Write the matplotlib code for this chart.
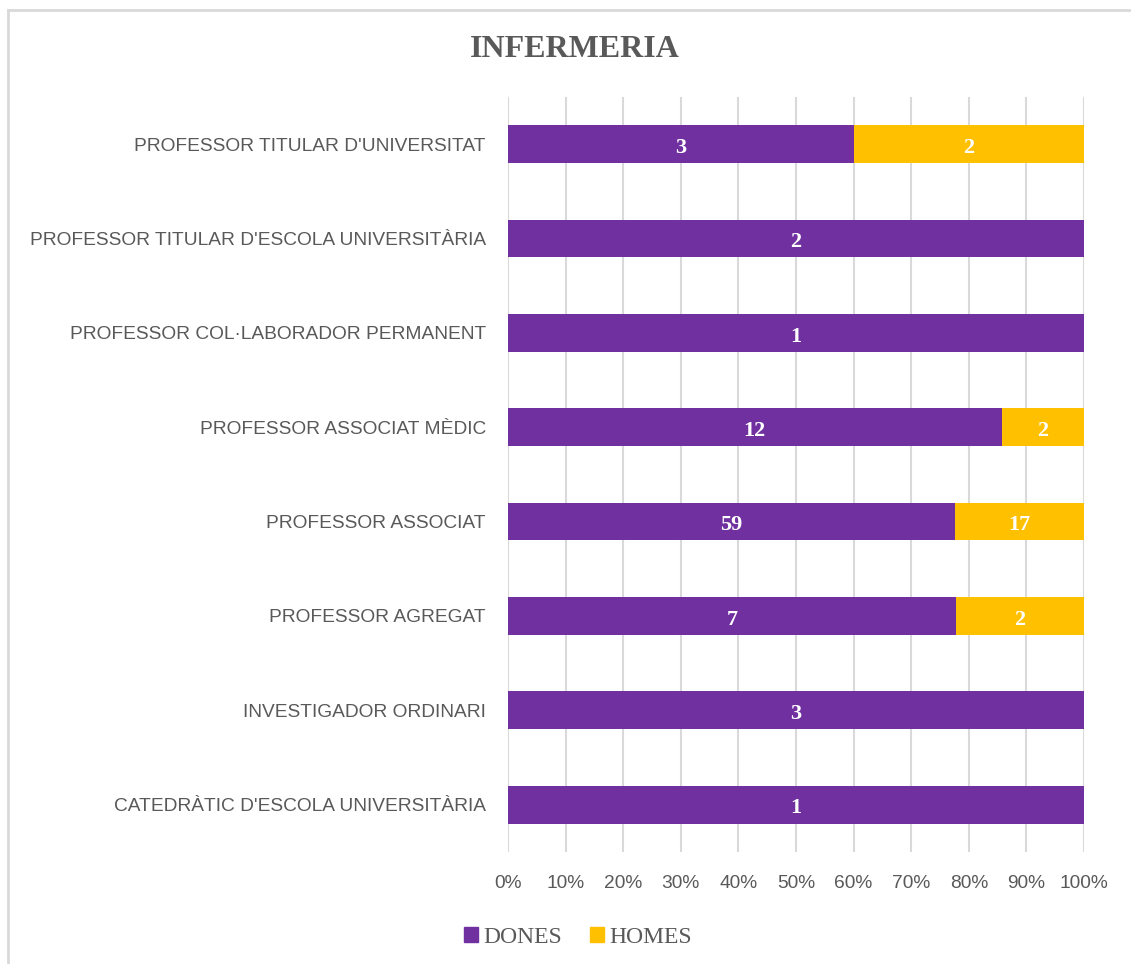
import matplotlib.pyplot as plt
from matplotlib.lines import Line2D
from matplotlib.patches import Patch

# categories listed bottom to top, as drawn
categories = [
    "CATEDRÀTIC D'ESCOLA UNIVERSITÀRIA",
    "INVESTIGADOR ORDINARI",
    "PROFESSOR AGREGAT",
    "PROFESSOR ASSOCIAT",
    "PROFESSOR ASSOCIAT MÈDIC",
    "PROFESSOR COL·LABORADOR PERMANENT",
    "PROFESSOR TITULAR D'ESCOLA UNIVERSITÀRIA",
    "PROFESSOR TITULAR D'UNIVERSITAT",
]
dones = [1, 3, 7, 59, 12, 1, 2, 3]
homes = [0, 0, 2, 17, 2, 0, 0, 2]
xticks = [0, 10, 20, 30, 40, 50, 60, 70, 80, 90, 100]

purple = '#7030A0'
gold = '#FFC000'
grey = '#595959'

totals = [d + h for d, h in zip(dones, homes)]
pct_d = [d / t * 100 for d, t in zip(dones, totals)]
pct_h = [h / t * 100 for h, t in zip(homes, totals)]

fig = plt.figure(figsize=(11.31, 9.64), dpi=100)
ax = fig.add_axes([0.4492, 0.1163, 0.5092, 0.7832])

y = range(len(categories))
ax.barh(y, pct_d, height=0.4, color=purple, zorder=3)
ax.barh(y, pct_h, left=pct_d, height=0.4, color=gold, zorder=3)

for i in y:
    ax.text(pct_d[i] / 2, i - 0.04, str(dones[i]), ha='center', va='center', color='white',
            fontsize=16, fontweight='bold', family='Liberation Serif', zorder=4)
    if homes[i] > 0:
        ax.text(pct_d[i] + pct_h[i] / 2, i - 0.04, str(homes[i]), ha='center', va='center',
                color='white', fontsize=16, fontweight='bold', family='Liberation Serif', zorder=4)

ax.set_xlim(0, 100)
ax.set_ylim(-0.5, len(categories) - 0.5)
ax.set_xticks(xticks)
ax.set_xticklabels([f'{v}%' for v in xticks])
ax.set_yticks(list(y))
ax.set_yticklabels(categories)
ax.tick_params(axis='both', length=0, labelsize=13.8, colors=grey)
ax.tick_params(axis='x', pad=17)
ax.tick_params(axis='y', pad=16)
for lab in ax.get_xticklabels() + ax.get_yticklabels():
    lab.set_family('Liberation Sans')
ax.grid(axis='x', color='#D9D9D9', linewidth=1.5, zorder=0)
for s in ax.spines.values():
    s.set_visible(False)

fig.text(0.508, 0.949, 'INFERMERIA', ha='center', va='center', fontsize=23,
         fontweight='bold', color=grey, family='Liberation Serif')

handles = [Patch(color=purple, label='DONES'), Patch(color=gold, label='HOMES')]
fig.legend(handles=handles, loc='center', bbox_to_anchor=(0.511, 0.028), ncol=2,
           frameon=False, prop={'family': 'Liberation Serif', 'size': 17},
           labelcolor=grey, handlelength=0.6, handleheight=0.6, handletextpad=0.2,
           columnspacing=1.2)

# outer chart border (top and left edges visible)
fig.add_artist(Line2D([0.0075, 1.0], [0.9896, 0.9896], color='#D9D9D9', linewidth=2,
                      transform=fig.transFigure))
fig.add_artist(Line2D([0.0075, 0.0075], [0.0, 0.9896], color='#D9D9D9', linewidth=2,
                      transform=fig.transFigure))

fig.savefig('out.png', dpi=100, facecolor='white')
